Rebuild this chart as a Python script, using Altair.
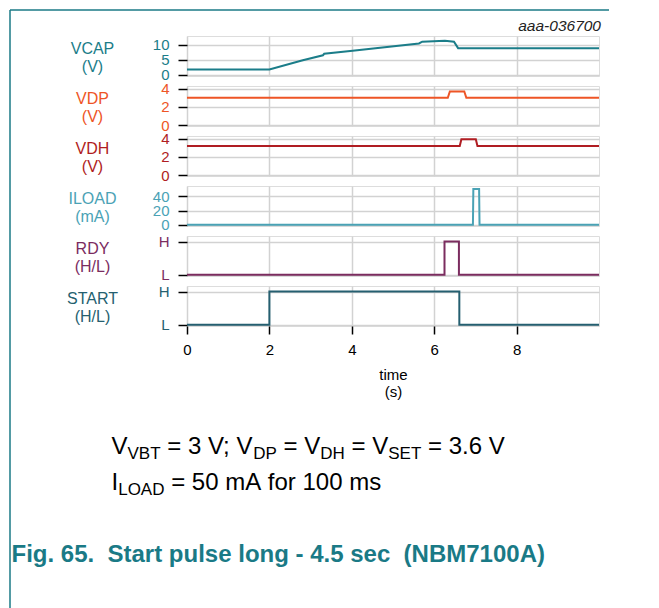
import altair as alt
import pandas as pd

# ---------------- data ----------------
vcap_t = [0, 2.0, 2.81, 3.30, 3.33, 4.02, 5.63, 5.71, 6.26, 6.48, 6.58, 10]
vcap_v = [1.7, 1.7, 4.8, 6.5, 7.0, 8.0, 10.5, 11.1, 11.4, 11.1, 8.9, 8.9]

vdp_t = [0, 6.33, 6.38, 6.73, 6.78, 10]
vdp_v = [3.0, 3.0, 3.7, 3.7, 3.0, 3.0]

vdh_t = [0, 6.62, 6.66, 7.01, 7.05, 10]
vdh_v = [3.2, 3.2, 3.95, 3.95, 3.2, 3.2]

iload_t = [0, 6.94, 6.95, 7.09, 7.10, 10]
iload_v = [0.3, 0.3, 50, 50, 0.3, 0.3]

rdy_t = [0, 6.25, 6.25, 6.60, 6.60, 10]
rdy_v = [0, 0, 1, 1, 0, 0]

start_t = [0, 2.0, 2.0, 6.61, 6.61, 10]
start_v = [0, 0, 1, 1, 0, 0]

x_ticks = [0, 2, 4, 6, 8]
ref_code = "aaa-036700"
line1 = [("V", False), ("VBT", True), (" = 3 V; V", False), ("DP", True),
         (" = V", False), ("DH", True), (" = V", False), ("SET", True), (" = 3.6 V", False)]
line2 = [("I", False), ("LOAD", True), (" = 50 mA for 100 ms", False)]
caption = "Fig. 65.  Start pulse long - 4.5 sec  (NBM7100A)"

FONT = "Liberation Sans"
GRID = "#d2d2d2"

# Arial / Liberation Sans advance widths (per 1000 em)
ADV = {' ': 278, '=': 584, ';': 278, '.': 278, 'V': 667, 'B': 667, 'T': 611, 'D': 722,
       'P': 667, 'H': 722, 'S': 667, 'E': 667, 'I': 278, 'L': 556, 'O': 778, 'A': 667,
       'm': 833, 'f': 278, 'o': 556, 'r': 333, 's': 500, 'a': 556}


def text_width(s, size):
    return sum(ADV.get(c, 556) for c in s) * size / 1000.0


def panel(t, v, color, title, domain, values, label_expr=None, bottom=False, width=412, height=40):
    df = pd.DataFrame({"t": t, "v": v})
    if bottom:
        xaxis = alt.Axis(values=x_ticks, grid=True, gridColor=GRID, gridWidth=1.5, domain=False,
                         ticks=True, tickColor="black", tickWidth=1.5, tickSize=8,
                         labelFontSize=15, labelColor="black", labelPadding=8, labelFont=FONT,
                         labelFlush=False, labelOverlap=False,
                         title=["time", "(s)"], titleFontSize=15, titleFontWeight="normal",
                         titleFont=FONT, titleColor="black", titlePadding=10, titleLineHeight=17)
    else:
        xaxis = alt.Axis(values=x_ticks, grid=True, gridColor=GRID, gridWidth=1.5, domain=False,
                         ticks=False, labels=False, title=None)
    yargs = dict(values=values, grid=True, gridColor=GRID, gridWidth=1.5, domain=False,
                 ticks=True, tickColor="black", tickWidth=1.5, tickSize=9,
                 labelFontSize=15, labelColor=color, labelPadding=9, labelFont=FONT,
                 labelOverlap=False, labelFlush=False,
                 title=title, titleAngle=0, titleAlign="center", titleBaseline="alphabetic",
                 titleX=-95, titleY=17, titleColor=color, titleFontSize=16,
                 titleFontWeight="normal", titleFont=FONT, titleLineHeight=18)
    if label_expr:
        yargs["labelExpr"] = label_expr
    return alt.Chart(df).mark_line(color=color, strokeWidth=2, interpolate="linear").encode(
        x=alt.X("t:Q", scale=alt.Scale(domain=[0, 10], nice=False, zero=False), axis=xaxis),
        y=alt.Y("v:Q", scale=alt.Scale(domain=domain, nice=False, zero=False), axis=alt.Axis(**yargs)),
        order=alt.Order("idx:Q"),
    ).transform_window(idx="row_number()").properties(width=width, height=height)


hl = "datum.value == 1 ? 'H' : 'L'"
p_vcap = panel(vcap_t, vcap_v, "#1b7d89", ["VCAP", "(V)"], [-0.5, 13], [0, 5, 10])
p_vdp = panel(vdp_t, vdp_v, "#ee5526", ["VDP", "(V)"], [-0.1, 4.3], [0, 2, 4])
p_vdh = panel(vdh_t, vdh_v, "#b01d22", ["VDH", "(V)"], [-0.1, 4.3], [0, 2, 4])
p_iload = panel(iload_t, iload_v, "#4aa2b5", ["ILOAD", "(mA)"], [-1.5, 54], [0, 20, 40])
p_rdy = panel(rdy_t, rdy_v, "#7b2c5f", ["RDY", "(H/L)"], [-0.04, 1.17], [0, 1], hl)
p_start = panel(start_t, start_v, "#255f70", ["START", "(H/L)"], [-0.04, 1.17], [0, 1], hl, bottom=True)

# ---------------- annotations (pixel offsets relative to the first panel) ----------------
one = pd.DataFrame({"k": [0]})
TEAL = "#1a7a86"
frame_top = alt.Chart(one).mark_rule(color=TEAL, strokeWidth=1.5).encode(
    x=alt.value(-177), x2=alt.value(422), y=alt.value(-26))
frame_left = alt.Chart(one).mark_rule(color=TEAL, strokeWidth=1.5).encode(
    x=alt.value(-177), y=alt.value(-26), y2=alt.value(572))
code_txt = alt.Chart(pd.DataFrame({"s": [ref_code]})).mark_text(
    align="right", baseline="alphabetic", fontStyle="italic", fontSize=15.5, font=FONT, color="#222222"
).encode(x=alt.value(414), y=alt.value(-5), text="s:N")

layers = []
BIG, SUB = 24, 17


def add_line(segs, x0, base):
    x = x0
    for s, sub in segs:
        size = SUB if sub else BIG
        lead = len(s) - len(s.lstrip(" "))
        body = s.strip(" ")
        xs = x + text_width(" " * lead, size)
        layers.append(alt.Chart(pd.DataFrame({"s": [body.replace(" ", "\u00a0")]})).mark_text(
            align="left", baseline="alphabetic", fontSize=size, font=FONT, color="black"
        ).encode(x=alt.value(xs), y=alt.value(base + (5 if sub else 0)), text="s:N"))
        x += text_width(s, size)


add_line(line1, -75.5, 417.5)
add_line(line2, -75.5, 453.5)
cap_txt = alt.Chart(pd.DataFrame({"s": [caption.replace(" ", "\u00a0")]})).mark_text(
    align="left", baseline="alphabetic", fontSize=24, fontWeight="bold", font=FONT, color=TEAL
).encode(x=alt.value(-175.5), y=alt.value(526), text="s:N")

top = alt.layer(p_vcap, frame_top, frame_left, code_txt, *layers, cap_txt)

chart = alt.vconcat(top, p_vdp, p_vdh, p_iload, p_rdy, p_start, spacing=10, bounds="flush").properties(
    padding=0
).configure_view(stroke="black", strokeWidth=1.5).configure(font=FONT)

chart.save("out.html", embed_options={"renderer": "svg", "actions": False})
